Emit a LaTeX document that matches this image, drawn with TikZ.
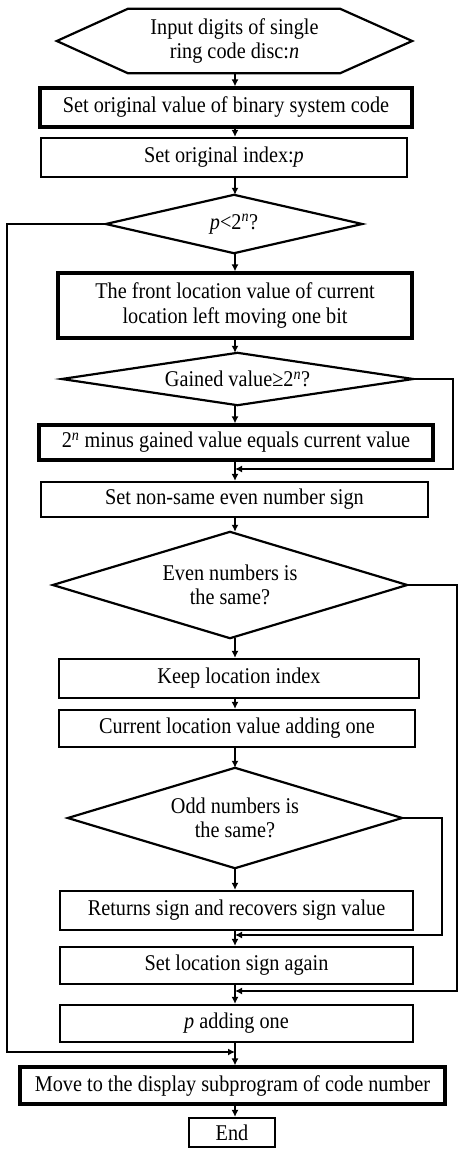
\documentclass[tikz,border=0pt]{standalone}
\usepackage{fontspec}
\setmainfont{Liberation Serif}[FakeStretch=0.9]
\usetikzlibrary{arrows.meta}
\begin{document}
\begin{tikzpicture}[x=1pt,y=-1pt,
  txt/.style={font=\fontsize{22.5}{24.5}\selectfont, align=center, inner sep=0pt},
  boxthin/.style={txt, draw, line width=2.2pt, rectangle},
  boxthick/.style={txt, draw, line width=3.2pt, rectangle},
  shapebox/.style={txt, rectangle},
  outl/.style={line width=2.2pt, line join=miter},
  arr/.style={line width=2pt, -{Latex[length=7pt,width=7pt]}},
  looparr/.style={line width=1.6pt, -{Latex[length=7pt,width=7pt]}},
]
\useasboundingbox (0,0) rectangle (458,1149);
\fill[white] (0,0) rectangle (458,1149);
\coordinate (col) at (235,0);

% nodes
\node[shapebox, minimum width=355, minimum height=64] (hex) at (234.5,41) {Input digits of single\\ring code disc:\textit{n}};
\draw[outl] (hex.west) -- ([xshift=71pt]hex.north west) -- ([xshift=-72pt]hex.north east) -- (hex.east) -- ([xshift=-72pt]hex.south east) -- ([xshift=71pt]hex.south west) -- cycle;

\node[boxthick, minimum width=372, minimum height=39] (b1) at (226,107.5) {Set original value of binary system code};
\node[boxthin, minimum width=366, minimum height=39] (b2) at (224,157.5) {Set original index:\textit{p}};

\node[shapebox, minimum width=256, minimum height=58] (dp) at (234,224) {\textit{p}<2\textsuperscript{\textit{n}}?};
\draw[outl] (dp.north) -- (dp.east) -- (dp.south) -- (dp.west) -- cycle;

\node[boxthick, minimum width=354, minimum height=65] (front) at (235,305.5) {The front location value of current\\location left moving one bit};

\node[shapebox, minimum width=351, minimum height=52] (dg) at (237.5,379) {Gained value≥2\textsuperscript{\textit{n}}?};
\draw[outl] (dg.north) -- (dg.east) -- (dg.south) -- (dg.west) -- cycle;

\node[boxthick, minimum width=394, minimum height=35] (minus) at (236,442.5) {2\textsuperscript{\textit{n}} minus gained value equals current value};
\node[boxthin, minimum width=387, minimum height=35] (nonsame) at (234.5,499.5) {Set non-same even number sign};

\node[shapebox, minimum width=354, minimum height=106] (de) at (230,585) {Even numbers is\\the same?};
\draw[outl] (de.north) -- (de.east) -- (de.south) -- (de.west) -- cycle;

\node[boxthin, minimum width=360, minimum height=39] (keep) at (239,678.5) {Keep location index};
\node[boxthin, minimum width=356, minimum height=37] (cur) at (237,728.5) {Current location value adding one};

\node[shapebox, minimum width=334, minimum height=100] (do) at (235,818) {Odd numbers is\\the same?};
\draw[outl] (do.north) -- (do.east) -- (do.south) -- (do.west) -- cycle;

\node[boxthin, minimum width=353, minimum height=39] (ret) at (236.5,910.5) {Returns sign and recovers sign value};
\node[boxthin, minimum width=353, minimum height=37] (setloc) at (236.5,965.5) {Set location sign again};
\node[boxthin, minimum width=353, minimum height=37] (padd) at (236.5,1023.5) {\textit{p} adding one};
\node[boxthick, minimum width=425, minimum height=37] (move) at (232.5,1085.5) {Move to the display subprogram of code number};
\node[boxthin, minimum width=86, minimum height=29] (end) at (232,1132.5) {End};

% main column connectors
\draw[arr] (hex.south -| col) -- (b1.north -| col);
\draw[arr] (b1.south -| col) -- (b2.north -| col);
\draw[arr] (b2.south -| col) -- (dp.north -| col);
\draw[arr] (dp.south -| col) -- (front.north -| col);
\draw[arr] (front.south -| col) -- (dg.north -| col);
\draw[arr] (dg.south -| col) -- (minus.north -| col);
\draw[arr] (minus.south -| col) -- (nonsame.north -| col);
\draw[arr] (nonsame.south -| col) -- (de.north -| col);
\draw[arr] (de.south -| col) -- (keep.north -| col);
\draw[arr] (keep.south -| col) -- (cur.north -| col);
\draw[arr] (cur.south -| col) -- (do.north -| col);
\draw[arr] (do.south -| col) -- (ret.north -| col);
\draw[arr] (ret.south -| col) -- (setloc.north -| col);
\draw[arr] (setloc.south -| col) -- (padd.north -| col);
\draw[arr] (padd.south -| col) -- (move.north -| col);
\draw[arr] (move.south -| col) -- (end.north -| col);

% loops
\coordinate (lx) at (7,0);
\coordinate (lj) at (235,1052);
\draw[looparr] (dp.west) -- (dp.west -| lx) |- (lj);

\coordinate (gx) at (453,0);
\coordinate (gj) at (235,469);
\draw[looparr] (dg.east) -- (dg.east -| gx) |- (gj);

\coordinate (ex) at (457,0);
\coordinate (ej) at (235,991);
\draw[looparr] (de.east) -- (de.east -| ex) |- (ej);

\coordinate (ox) at (442,0);
\coordinate (oj) at (235,935);
\draw[looparr] (do.east) -- (do.east -| ox) |- (oj);
\end{tikzpicture}
\end{document}
